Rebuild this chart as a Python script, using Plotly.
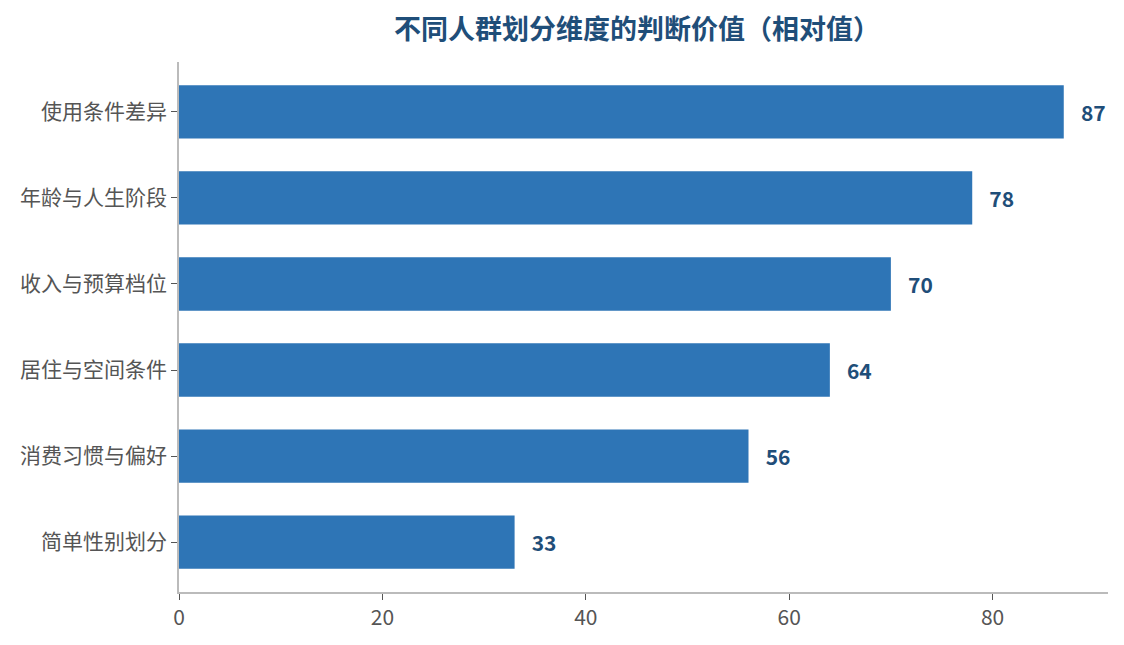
import plotly.graph_objects as go

categorias = ["简单性别划分", "消费习惯与偏好", "居住与空间条件", "收入与预算档位", "年龄与人生阶段", "使用条件差异"]
valores = [33, 56, 64, 70, 78, 87]

fig = go.Figure()
fig.add_trace(go.Bar(
    x=valores, y=categorias, orientation="h",
    marker=dict(color="#2E75B6", line=dict(width=0)),
    text=valores, textposition="outside",
    textfont=dict(size=21, color="#1F4E79", family="Noto Sans CJK SC"),
    texttemplate="\u00a0\u00a0\u00a0<b>%{text}</b>",
    cliponaxis=False,
))

fig.update_layout(
    width=1124, height=645,
    paper_bgcolor="white", plot_bgcolor="white",
    margin=dict(l=168, r=24, t=54, b=61),
    bargap=0.38,
    showlegend=False,
    font=dict(family="Noto Sans CJK SC", size=21, color="#555555"),
    title=dict(text="<b>不同人群划分维度的判断价值（相对值）</b>",
               xref="paper", x=0.493, xanchor="center",
               y=0.966, yanchor="middle",
               font=dict(size=27, color="#1F4E79")),
)
fig.update_xaxes(range=[0, 87 * 1.05], showgrid=False, zeroline=False,
                 showline=True, linecolor="#BBBBBB", linewidth=1.5,
                 ticks="outside", ticklen=6, tickcolor="#555555",
                 dtick=20, tickfont=dict(size=21, color="#555555"))
fig.update_yaxes(range=[-0.58, 5.58], showgrid=False, showline=True,
                 linecolor="#BBBBBB", linewidth=1.5,
                 ticks="outside", ticklen=6, tickcolor="#555555",
                 tickfont=dict(size=21, color="#555555"))

fig.write_html("out.html")
